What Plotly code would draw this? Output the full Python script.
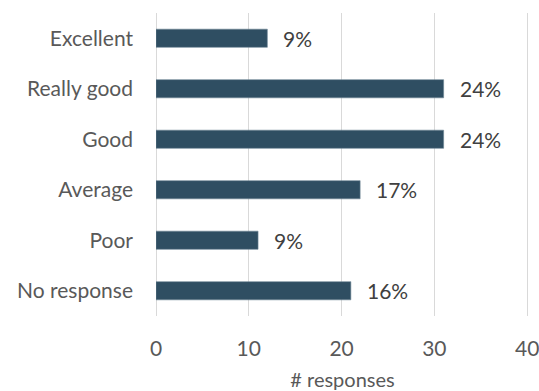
import plotly.graph_objects as go

categories = ["Excellent", "Really good", "Good", "Average", "Poor", "No response"]
responses = [12, 31, 31, 22, 11, 21]
pct_labels = ["9%", "24%", "24%", "17%", "9%", "16%"]
x_ticks = [0, 10, 20, 30, 40]

bar_color = "#2F4E62"
font_family = "Lato, 'Open Sans', sans-serif"

fig = go.Figure(go.Bar(
    x=responses, y=categories, orientation="h",
    marker=dict(color=bar_color, line=dict(color="#6f8796", width=0.6)),
    hoverinfo="skip",
))

for c, v, t in zip(categories, responses, pct_labels):
    fig.add_annotation(x=v, y=c, text=t, showarrow=False, xanchor="left",
                       xshift=14, font=dict(size=21, color="#404040", family=font_family))

fig.update_layout(
    width=539, height=391,
    margin=dict(l=156, r=10, t=13, b=75),
    paper_bgcolor="white", plot_bgcolor="white",
    bargap=0.64, showlegend=False,
    font=dict(family=font_family, color="#595959"),
)
fig.update_xaxes(
    range=[0, 40.2], tickvals=x_ticks, showgrid=True, gridcolor="#D9D9D9", gridwidth=1.3,
    zeroline=True, zerolinecolor="#D9D9D9", zerolinewidth=1.3, showline=False,
    tickfont=dict(size=21, color="#595959"), automargin=False, ticklabeloverflow="allow",
    ticks="", ticklabelstandoff=18,
    title=dict(text="# responses", font=dict(size=20, color="#595959"), standoff=15),
)
fig.update_yaxes(
    categoryorder="array", categoryarray=categories[::-1],
    showgrid=False, zeroline=False, showline=False, ticks="", automargin=False,
    tickfont=dict(size=21, color="#595959"), ticklabelstandoff=22,
)

fig.write_html("out.html")
